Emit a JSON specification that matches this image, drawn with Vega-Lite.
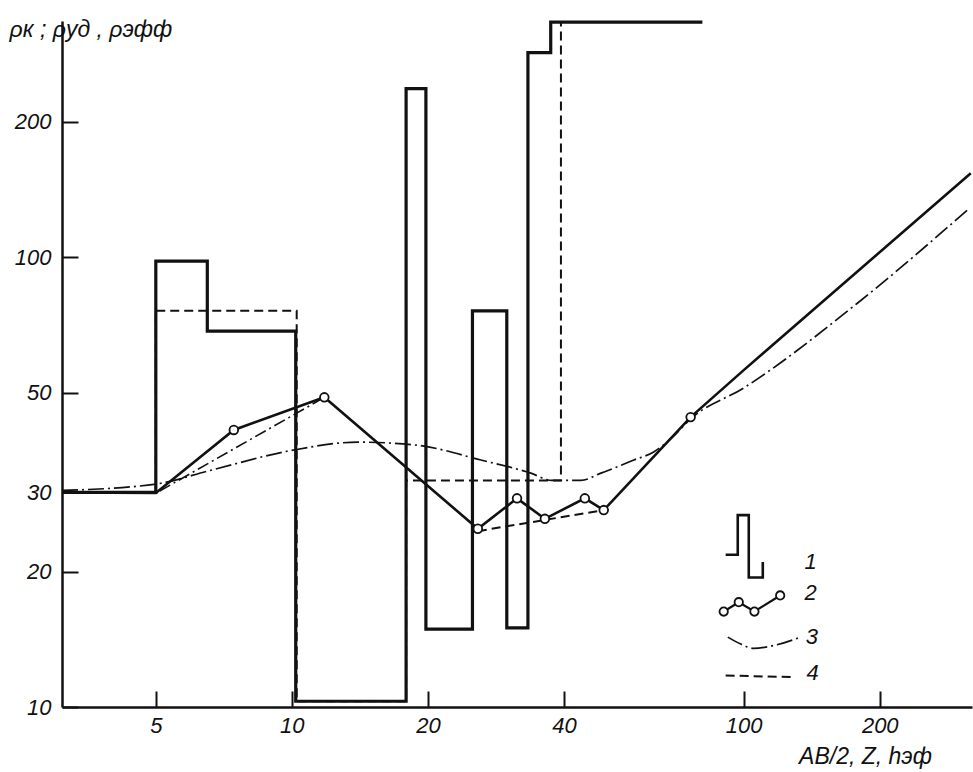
{
  "$schema": "https://vega.github.io/schema/vega-lite/v6.json",
  "width": 910,
  "height": 686,
  "autosize": {"type": "none"},
  "padding": {"left": 62, "top": 21, "right": 1, "bottom": 65},
  "background": "white",
  "config": {
    "view": {"stroke": null},
    "font": "Liberation Sans",
    "axis": {
      "grid": false,
      "domainColor": "#111",
      "domainWidth": 2.5,
      "tickColor": "#111",
      "tickWidth": 2,
      "labelColor": "#111",
      "labelFont": "Liberation Sans",
      "labelFontStyle": "italic",
      "labelFontSize": 22,
      "titleFont": "Liberation Sans",
      "titleFontStyle": "italic",
      "titleFontWeight": "normal",
      "titleFontSize": 23,
      "titleColor": "#111"
    }
  },
  "datasets": {
    "curve1": [
      {"i": 0, "x": 3.1, "y": 30},
      {"i": 1, "x": 5.0, "y": 30},
      {"i": 2, "x": 5.0, "y": 98},
      {"i": 3, "x": 6.5, "y": 98},
      {"i": 4, "x": 6.5, "y": 68.5},
      {"i": 5, "x": 10.2, "y": 68.5},
      {"i": 6, "x": 10.2, "y": 10.3},
      {"i": 7, "x": 17.9, "y": 10.3},
      {"i": 8, "x": 17.9, "y": 237},
      {"i": 9, "x": 19.8, "y": 237},
      {"i": 10, "x": 19.8, "y": 14.9},
      {"i": 11, "x": 25.1, "y": 14.9},
      {"i": 12, "x": 25.1, "y": 76},
      {"i": 13, "x": 29.9, "y": 76},
      {"i": 14, "x": 29.9, "y": 15},
      {"i": 15, "x": 33.3, "y": 15},
      {"i": 16, "x": 33.3, "y": 285},
      {"i": 17, "x": 37.4, "y": 285},
      {"i": 18, "x": 37.4, "y": 333},
      {"i": 19, "x": 81, "y": 333}
    ],
    "curve2": [
      {"i": 0, "x": 3.1, "y": 30, "pt": 0},
      {"i": 1, "x": 5.0, "y": 29.9, "pt": 0},
      {"i": 2, "x": 7.44, "y": 41.3, "pt": 1},
      {"i": 3, "x": 11.8, "y": 48.8, "pt": 1},
      {"i": 4, "x": 25.8, "y": 24.9, "pt": 1},
      {"i": 5, "x": 31.5, "y": 29.1, "pt": 1},
      {"i": 6, "x": 36.3, "y": 26.2, "pt": 1},
      {"i": 7, "x": 44.5, "y": 29.1, "pt": 1},
      {"i": 8, "x": 49.0, "y": 27.4, "pt": 1},
      {"i": 9, "x": 76.3, "y": 44.1, "pt": 1},
      {"i": 10, "x": 100, "y": 56.1, "pt": 0},
      {"i": 11, "x": 318, "y": 153.7, "pt": 0}
    ],
    "curve3": [
      {"i": 0, "x": 3.1, "y": 30.3},
      {"i": 1, "x": 5.0, "y": 31.3},
      {"i": 2, "x": 6.62, "y": 33.6},
      {"i": 3, "x": 10.0, "y": 37.2},
      {"i": 4, "x": 14.0, "y": 38.8},
      {"i": 5, "x": 18.9, "y": 38.2},
      {"i": 6, "x": 26.2, "y": 35.4},
      {"i": 7, "x": 33.8, "y": 33.1},
      {"i": 8, "x": 37.6, "y": 31.9},
      {"i": 9, "x": 43.6, "y": 31.9},
      {"i": 10, "x": 48.3, "y": 33.1},
      {"i": 11, "x": 57.1, "y": 35.4},
      {"i": 12, "x": 63.2, "y": 36.9},
      {"i": 13, "x": 69.6, "y": 39.8},
      {"i": 14, "x": 76.3, "y": 43.7},
      {"i": 15, "x": 100, "y": 51.2},
      {"i": 16, "x": 178.7, "y": 79.1},
      {"i": 17, "x": 316, "y": 128.5}
    ],
    "curve4": [
      {"i": 0, "x": 5.0, "y": 30},
      {"i": 1, "x": 5.0, "y": 76},
      {"i": 2, "x": 10.25, "y": 76},
      {"i": 3, "x": 10.25, "y": 10.3},
      {"i": 4, "x": 17.9, "y": 10.3},
      {"i": 5, "x": 17.9, "y": 31.9},
      {"i": 6, "x": 39.4, "y": 31.9},
      {"i": 7, "x": 39.4, "y": 333}
    ],
    "aux": [
      {"seg": "a", "i": 0, "x": 5.1, "y": 30.2, "kind": "dashdot"},
      {"seg": "a", "i": 1, "x": 11.8, "y": 48.8, "kind": "dashdot"},
      {"seg": "b", "i": 0, "x": 25.8, "y": 24.6, "kind": "dash"},
      {"seg": "b", "i": 1, "x": 49.0, "y": 27.4, "kind": "dash"}
    ],
    "legendStep": [
      {"i": 0, "x": 91.2, "y": 21.8},
      {"i": 1, "x": 97.0, "y": 21.8},
      {"i": 2, "x": 97.0, "y": 26.7},
      {"i": 3, "x": 102.6, "y": 26.7},
      {"i": 4, "x": 102.6, "y": 19.4},
      {"i": 5, "x": 110.2, "y": 19.4},
      {"i": 6, "x": 110.2, "y": 21.0}
    ],
    "legendCircles": [
      {"i": 0, "x": 90.3, "y": 16.3},
      {"i": 1, "x": 97.5, "y": 17.1},
      {"i": 2, "x": 105.6, "y": 16.3},
      {"i": 3, "x": 120.4, "y": 17.7}
    ],
    "legendArc": [
      {"i": 0, "x": 92.2, "y": 14.3},
      {"i": 1, "x": 98.5, "y": 13.8},
      {"i": 2, "x": 105.2, "y": 13.5},
      {"i": 3, "x": 116.5, "y": 13.7},
      {"i": 4, "x": 133.6, "y": 14.3}
    ],
    "legendDash": [
      {"i": 0, "x": 91.2, "y": 11.75},
      {"i": 1, "x": 129, "y": 11.65}
    ],
    "legendText": [
      {"x": 140.7, "y": 21.0, "t": "1"},
      {"x": 140.7, "y": 17.9, "t": "2"},
      {"x": 141.5, "y": 14.3, "t": "3"},
      {"x": 142.0, "y": 11.9, "t": "4"}
    ]
  },
  "encoding": {
    "x": {
      "field": "x",
      "type": "quantitative",
      "scale": {"type": "log", "domain": [3.1, 320], "nice": false},
      "axis": {
        "values": [5, 10, 20, 40, 100, 200],
        "tickSize": -16,
        "labelPadding": 24,
        "title": "AB/2, Z, hэф",
        "titleX": 803,
        "titleY": 49,
        "titleAlign": "center",
        "titleBaseline": "middle"
      }
    },
    "y": {
      "field": "y",
      "type": "quantitative",
      "scale": {"type": "log", "domain": [10, 335], "nice": false},
      "axis": {
        "values": [10, 20, 30, 50, 100, 200],
        "tickSize": -16,
        "labelPadding": 27,
        "title": "ρк ; ρуд , ρэфф",
        "titleAngle": 0,
        "titleAlign": "left",
        "titleBaseline": "middle",
        "titleX": -53,
        "titleY": 8
      }
    }
  },
  "layer": [
    {
      "data": {"name": "curve4"},
      "mark": {"type": "line", "color": "#111", "strokeWidth": 2, "strokeDash": [9, 5]},
      "encoding": {"order": {"field": "i"}}
    },
    {
      "data": {"name": "curve3"},
      "mark": {"type": "line", "color": "#111", "strokeWidth": 1.7, "strokeDash": [16, 4, 2, 4], "interpolate": "monotone"},
      "encoding": {"order": {"field": "i"}}
    },
    {
      "data": {"name": "aux"},
      "transform": [{"filter": "datum.kind === 'dashdot'"}],
      "mark": {"type": "line", "color": "#111", "strokeWidth": 1.6, "strokeDash": [12, 4, 2, 4]},
      "encoding": {"order": {"field": "i"}, "detail": {"field": "seg"}}
    },
    {
      "data": {"name": "aux"},
      "transform": [{"filter": "datum.kind === 'dash'"}],
      "mark": {"type": "line", "color": "#111", "strokeWidth": 2, "strokeDash": [9, 5]},
      "encoding": {"order": {"field": "i"}, "detail": {"field": "seg"}}
    },
    {
      "data": {"name": "curve1"},
      "mark": {"type": "line", "color": "#111", "strokeWidth": 3.2, "strokeJoin": "miter"},
      "encoding": {"order": {"field": "i"}}
    },
    {
      "data": {"name": "curve2"},
      "mark": {"type": "line", "color": "#111", "strokeWidth": 2.6},
      "encoding": {"order": {"field": "i"}}
    },
    {
      "data": {"name": "curve2"},
      "transform": [{"filter": "datum.pt === 1"}],
      "mark": {"type": "point", "shape": "circle", "size": 75, "filled": true, "fill": "white", "stroke": "#111", "strokeWidth": 1.8, "opacity": 1}
    },
    {
      "data": {"name": "legendStep"},
      "mark": {"type": "line", "color": "#111", "strokeWidth": 2.6, "strokeJoin": "miter"},
      "encoding": {"order": {"field": "i"}}
    },
    {
      "data": {"name": "legendCircles"},
      "mark": {"type": "line", "color": "#111", "strokeWidth": 2.2},
      "encoding": {"order": {"field": "i"}}
    },
    {
      "data": {"name": "legendCircles"},
      "mark": {"type": "point", "shape": "circle", "size": 70, "filled": true, "fill": "white", "stroke": "#111", "strokeWidth": 1.8, "opacity": 1}
    },
    {
      "data": {"name": "legendArc"},
      "mark": {"type": "line", "color": "#111", "strokeWidth": 1.7, "strokeDash": [16, 4, 2, 4], "interpolate": "monotone"},
      "encoding": {"order": {"field": "i"}}
    },
    {
      "data": {"name": "legendDash"},
      "mark": {"type": "line", "color": "#111", "strokeWidth": 2, "strokeDash": [9, 5]},
      "encoding": {"order": {"field": "i"}}
    },
    {
      "data": {"name": "legendText"},
      "mark": {"type": "text", "font": "Liberation Sans", "fontStyle": "italic", "fontSize": 22, "color": "#111", "align": "center", "baseline": "middle"},
      "encoding": {"text": {"field": "t"}}
    }
  ]
}
